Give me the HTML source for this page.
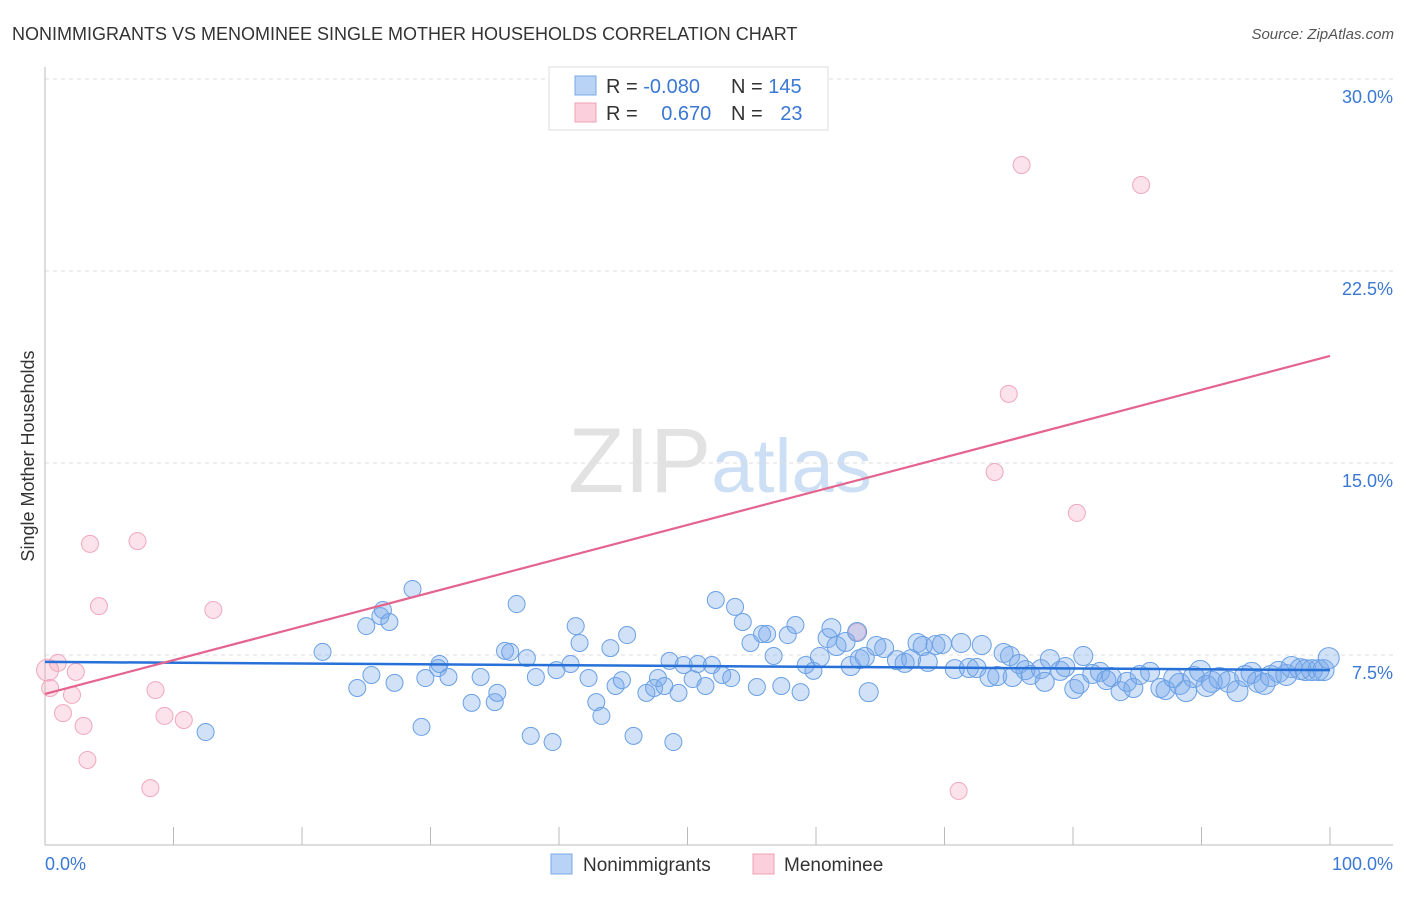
<!DOCTYPE html>
<html><head><meta charset="utf-8"><style>
body{margin:0;background:#fff;font-family:"Liberation Sans",sans-serif;}
svg text{font-family:"Liberation Sans",sans-serif;}
</style></head><body>
<svg id="chart" width="1406" height="892" xmlns="http://www.w3.org/2000/svg">
<text x="12" y="40" font-size="18" fill="#333">NONIMMIGRANTS VS MENOMINEE SINGLE MOTHER HOUSEHOLDS CORRELATION CHART</text>
<text x="1394" y="39" font-size="15" fill="#555" text-anchor="end" font-style="italic">Source: ZipAtlas.com</text>
<text x="720" y="492" font-size="92" text-anchor="middle" fill="#e2e2e2" font-family="Liberation Serif">ZIP<tspan fill="#cddff4" font-family="Liberation Sans" font-size="76">atlas</tspan></text>
<text transform="translate(34,456) rotate(-90)" font-size="18" fill="#333" text-anchor="middle">Single Mother Households</text>
<g id="grid"></g>
<g id="axes"></g>
<g id="marks"></g>
<g>
<rect x="549" y="67" width="279" height="63" fill="#fff" stroke="#ddd"/>
<rect x="575" y="76" width="21" height="19" fill="#b8d3f5" stroke="#7aa8e6"/>
<rect x="575" y="103" width="21" height="19" fill="#fbd0dc" stroke="#eea0b6"/>
<text x="606" y="93" font-size="20" fill="#333">R = <tspan fill="#3a78d4">-0.080</tspan></text>
<text x="731" y="93" font-size="20" fill="#333">N = <tspan fill="#3a78d4">145</tspan></text>
<text x="606" y="120" font-size="20" fill="#333">R = <tspan fill="#3a78d4" dx="18">0.670</tspan></text>
<text x="731" y="120" font-size="20" fill="#333">N = <tspan fill="#3a78d4" dx="12">23</tspan></text>
</g>
<g>
<rect x="551" y="854" width="21" height="20" fill="#b8d3f5" stroke="#7aa8e6"/>
<text x="583" y="871" font-size="19" fill="#333">Nonimmigrants</text>
<rect x="753" y="854" width="21" height="20" fill="#fbd0dc" stroke="#eea0b6"/>
<text x="784" y="871" font-size="19" fill="#333">Menominee</text>
</g>
</svg>
<script>
const blueX=[12.5,21.6,24.3,25.0,25.4,26.1,26.3,26.8,27.2,28.6,29.3,29.6,30.6,30.7,31.4,33.2,33.9,35.0,35.2,35.8,36.2,36.7,37.5,37.8,38.2,39.5,39.8,40.9,41.3,41.6,42.3,42.9,43.3,44.0,44.4,44.9,45.3,45.8,46.8,47.4,47.7,48.2,48.6,48.9,49.3,49.7,50.4,50.8,51.4,51.9,52.2,52.7,53.4,53.7,54.3,54.9,55.4,55.8,56.2,56.7,57.3,57.8,58.4,58.8,59.2,59.8,60.3,60.9,61.2,61.6,62.3,62.7,63.2,63.4,63.8,64.1,64.7,65.3,66.3,66.9,67.4,67.9,68.3,68.7,69.3,69.8,70.8,71.3,71.9,72.5,72.9,73.5,74.1,74.6,75.1,75.3,75.8,76.3,76.7,77.5,77.8,78.2,79.0,79.4,80.1,80.5,80.8,81.5,82.1,82.6,83.0,83.7,84.2,84.7,85.2,86.0,86.8,87.2,87.8,88.3,88.8,89.4,89.9,90.4,90.8,91.4,92.1,92.8,93.4,93.9,94.4,94.9,95.4,96.0,96.6,97.0,97.7,98.1,98.6,99.1,99.5,99.9];
const blueY=[4.49,7.62,6.21,8.63,6.72,9.02,9.26,8.79,6.41,10.08,4.69,6.60,6.99,7.15,6.64,5.63,6.64,5.66,6.02,7.66,7.62,9.49,7.38,4.34,6.64,4.10,6.91,7.15,8.63,7.97,6.60,5.66,5.12,7.77,6.29,6.52,8.28,4.34,6.02,6.21,6.60,6.29,7.27,4.10,6.02,7.11,6.56,7.15,6.29,7.11,9.65,6.72,6.60,9.38,8.79,7.97,6.25,8.32,8.32,7.46,6.29,8.28,8.67,6.05,7.11,6.88,7.42,8.16,8.55,7.85,8.01,7.07,8.40,7.34,7.42,6.05,7.85,7.77,7.30,7.19,7.34,7.97,7.85,7.23,7.89,7.93,6.95,7.97,6.99,6.99,7.89,6.64,6.68,7.58,7.46,6.64,7.15,6.91,6.72,6.95,6.45,7.34,6.88,7.03,6.17,6.37,7.46,6.76,6.84,6.52,6.64,6.09,6.45,6.21,6.72,6.84,6.21,6.13,6.60,6.37,6.09,6.64,6.88,6.29,6.45,6.60,6.45,6.09,6.68,6.80,6.45,6.37,6.68,6.84,6.72,7.03,6.95,6.91,6.91,6.91,6.91,7.38];
const pinkX=[0.2,0.4,1.0,1.4,2.1,2.4,3.0,3.3,3.5,4.2,7.2,8.2,8.6,9.3,10.8,13.1,63.2,71.1,73.9,75.0,76.0,80.3,85.3];
const pinkY=[6.91,6.21,7.19,5.23,5.94,6.84,4.73,3.40,11.84,9.41,11.95,2.30,6.13,5.12,4.96,9.26,8.40,2.19,14.65,17.70,26.64,13.05,25.86];
const blueTrend=[7.23,6.91];
const pinkTrend=[5.98,19.18];
const yTicks=[7.5,15.0,22.5,30.0];
const xTickLabels=["0.0%","100.0%"];

const NS="http://www.w3.org/2000/svg";
const sx=v=>45+v*12.85;
const sy=v=>847-v*25.6;
function mk(tag,attrs,parent){const e=document.createElementNS(NS,tag);for(const k in attrs)e.setAttribute(k,attrs[k]);parent.appendChild(e);return e;}
const grid=document.getElementById('grid'),axes=document.getElementById('axes'),marks=document.getElementById('marks');
yTicks.forEach(t=>{
  const l=mk('line',{x1:45,x2:1393,y1:sy(t),y2:sy(t),stroke:'#ddd','stroke-dasharray':'4,4'},grid);
  
  
  const tx=mk('text',{x:1393,y:sy(t)+24,'font-size':18,fill:'#3a78d4','text-anchor':'end'},axes);
  tx.textContent=t.toFixed(1)+'%';
  
  
});
const ax=mk('line',{x1:45,x2:1393,y1:845,y2:845,stroke:'#bbb'},axes);


const ay=mk('line',{x1:45,x2:45,y1:67,y2:845,stroke:'#bbb'},axes);


for(let i=1;i<=10;i++){
  const t=mk('line',{x1:sx(i*10),x2:sx(i*10),y1:827,y2:845,stroke:'#bbb'},axes);
  
  
}
[[0,'start',45],[100,'end',1393]].forEach((d,i)=>{
  const t=mk('text',{x:d[2],y:870,'font-size':18,fill:'#3a78d4','text-anchor':d[1]},axes);
  t.textContent=xTickLabels[i];
  
  
});
pinkX.forEach((x,i)=>{
  const c=mk('circle',{cx:sx(x),cy:sy(pinkY[i]),r:i===0?11:8.5,fill:'rgba(245,160,185,0.3)',stroke:'#f0a8bc','stroke-width':1},marks);
  
  
});
blueX.forEach((x,i)=>{
  const r=x>88?10.5:(x>60?9.5:8.5);
  const c=mk('circle',{cx:sx(x),cy:sy(blueY[i]),r:r,fill:'rgba(120,170,235,0.35)',stroke:'#6aa0e4','stroke-width':1},marks);
  
  
});
const bt=mk('line',{x1:sx(0),x2:sx(100),y1:sy(blueTrend[0]),y2:sy(blueTrend[1]),stroke:'#2670d8','stroke-width':2.5},marks);


const pt=mk('line',{x1:sx(0),x2:sx(100),y1:sy(pinkTrend[0]),y2:sy(pinkTrend[1]),stroke:'#e4648e','stroke-width':2.2},marks);


</script>
</body></html>
